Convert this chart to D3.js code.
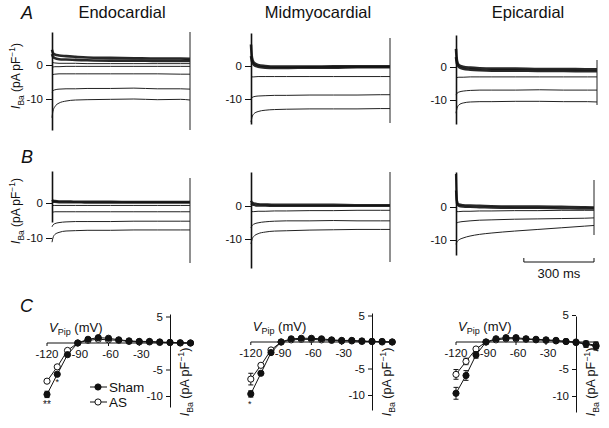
<!DOCTYPE html>
<html><head><meta charset="utf-8">
<script src="https://cdn.jsdelivr.net/npm/d3@7"></script>
<style>
html,body{margin:0;padding:0;background:#fff;}
svg{display:block;font-family:"Liberation Sans",Arial,Helvetica,sans-serif;}
</style></head>
<body>
<svg id="chart" width="609" height="428"></svg>
<script>
// ---------- DATA ----------
const titles = ["Endocardial", "Midmyocardial", "Epicardial"];
const rowLabels = ["A", "B", "C"];
const traceTicks = [0, -10];
const traceTimes = [0, 4, 12, 30, 60, 100, 150, 250, 350, 450, 550, 590]; // ms
// Row A current traces (pA/pF)
const endoA = [
  [-15.5, -13.6, -12.3, -11.2, -10.6, -10.3, -10.2, -10.1, -10.0, -10.2, -10.1, -10.3],
  [-8.0, -7.6, -7.3, -7.1, -7.0, -7.0, -6.9, -6.9, -6.8, -7.0, -7.0, -7.1],
  [-3.0, -2.8, -2.7, -2.6, -2.6, -2.6, -2.6, -2.6, -2.6, -2.6, -2.7, -2.7],
  [-0.7, -0.6, -0.5, -0.5, -0.4, -0.4, -0.4, -0.4, -0.4, -0.4, -0.4, -0.4],
  [0.8, 0.7, 0.6, 0.5, 0.5, 0.5, 0.4, 0.4, 0.4, 0.4, 0.4, 0.4]
];
const endoABand = [
  [4.5, 3.6, 3.1, 2.8, 2.6, 2.4, 2.2, 2.1, 2.0, 1.9, 1.9, 1.8],
  [3.2, 2.5, 2.0, 1.7, 1.6, 1.5, 1.4, 1.3, 1.3, 1.2, 1.2, 1.2]
];
const midA = [
  [-17.0, -15.6, -14.5, -13.8, -13.4, -13.2, -13.1, -13.0, -13.0, -13.0, -12.9, -12.9],
  [-10.0, -9.6, -9.3, -9.1, -9.0, -8.9, -8.9, -8.8, -8.8, -8.8, -8.7, -8.7],
  [-3.4, -3.3, -3.3, -3.2, -3.2, -3.2, -3.2, -3.2, -3.2, -3.2, -3.2, -3.2]
];
const midABand = [
  [6.5, 2.6, 1.0, 0.3, 0.0, -0.2, -0.2, -0.2, -0.1, -0.1, -0.1, -0.1],
  [3.0, 1.4, 0.4, -0.2, -0.5, -0.6, -0.6, -0.5, -0.5, -0.4, -0.4, -0.4]
];
const epiA = [
  [-14.0, -12.6, -11.5, -10.9, -10.6, -10.5, -10.5, -10.4, -10.4, -10.5, -10.5, -10.6],
  [-8.5, -8.0, -7.6, -7.3, -7.1, -7.0, -7.0, -7.0, -6.9, -7.0, -7.0, -7.0],
  [-3.3, -3.2, -3.1, -3.1, -3.0, -3.0, -3.0, -3.0, -3.0, -3.0, -3.0, -3.0]
];
const epiABand = [
  [5.5, 2.0, 0.6, 0.1, -0.2, -0.4, -0.5, -0.5, -0.6, -0.6, -0.7, -0.7],
  [3.0, 1.0, 0.0, -0.5, -0.8, -1.0, -1.1, -1.1, -1.2, -1.2, -1.3, -1.3]
];
// Row B current traces
const endoB = [
  [-11.2, -10.0, -9.0, -8.4, -8.0, -7.9, -7.8, -7.8, -7.7, -7.7, -7.7, -7.7],
  [-6.8, -6.3, -5.9, -5.6, -5.4, -5.3, -5.3, -5.3, -5.2, -5.2, -5.2, -5.2],
  [-2.7, -2.6, -2.5, -2.5, -2.5, -2.5, -2.5, -2.5, -2.5, -2.5, -2.5, -2.5],
  [-0.8, -0.7, -0.7, -0.7, -0.7, -0.7, -0.7, -0.7, -0.7, -0.7, -0.7, -0.7]
];
const endoBBand = [
  [0.9, 0.7, 0.6, 0.5, 0.5, 0.4, 0.4, 0.4, 0.3, 0.3, 0.3, 0.3],
  [0.5, 0.4, 0.3, 0.2, 0.2, 0.2, 0.1, 0.1, 0.1, 0.1, 0.1, 0.1]
];
const midB = [
  [-11.5, -10.2, -9.2, -8.4, -7.9, -7.6, -7.5, -7.3, -7.2, -7.1, -7.1, -7.1],
  [-6.6, -6.0, -5.5, -5.1, -4.8, -4.6, -4.5, -4.5, -4.4, -4.5, -4.5, -4.5],
  [-1.8, -1.7, -1.7, -1.6, -1.6, -1.5, -1.5, -1.4, -1.4, -1.3, -1.3, -1.3]
];
const midBBand = [
  [1.6, 1.1, 0.8, 0.6, 0.5, 0.4, 0.4, 0.4, 0.4, 0.3, 0.3, 0.3],
  [0.8, 0.5, 0.3, 0.1, 0.1, 0.0, 0.0, 0.0, 0.0, 0.0, 0.0, 0.0]
];
const epiB = [
  [-11.3, -10.6, -10.0, -9.4, -8.8, -8.3, -7.9, -7.3, -6.8, -6.3, -5.8, -5.6],
  [-5.0, -4.8, -4.6, -4.4, -4.2, -4.0, -3.9, -3.7, -3.6, -3.5, -3.4, -3.3],
  [-1.5, -1.4, -1.4, -1.3, -1.3, -1.2, -1.2, -1.1, -1.1, -1.0, -1.0, -1.0]
];
const epiBBand = [
  [10.0, 2.0, 0.8, 0.6, 0.5, 0.4, 0.3, 0.2, 0.2, 0.1, 0.0, -0.1],
  [5.0, 1.0, 0.3, 0.1, 0.0, -0.1, -0.2, -0.3, -0.3, -0.4, -0.5, -0.5]
];
const scaleBarMs = 300;
// Row C I-V data
const ivVoltages = [-120, -110, -100, -90, -80, -70, -60, -50, -40, -30, -20, -10, 0, 10, 20];
const ivXTicks = [-120, -90, -60, -30];
const ivYTicks = [5, -5, -10];
const endoSham = [-9.7, -5.9, -2.2, 0, 0.7, 1.0, 0.9, 0.6, 0.4, 0.3, 0.3, 0.2, 0.1, 0.05, 0];
const endoAS   = [-7.2, -4.5, -1.4, 0, 0.5, 0.7, 0.6, 0.5, 0.3, 0.2, 0.2, 0.1, 0.1, 0.0, 0];
const endoShamErr = [0.6, 0.5, 0.3, 0.1, 0.2, 0.2, 0.2, 0.2, 0.1, 0.1, 0.1, 0.1, 0.1, 0.1, 0.1];
const endoASErr   = [0.5, 0.4, 0.3, 0.1, 0.2, 0.2, 0.2, 0.1, 0.1, 0.1, 0.1, 0.1, 0.1, 0.1, 0.1];
const midSham = [-9.8, -5.9, -2.0, 0, 0.6, 0.7, 0.7, 0.6, 0.4, 0.3, 0.3, 0.2, 0.1, 0.1, 0];
const midAS   = [-7.0, -4.4, -1.5, 0, 0.4, 0.5, 0.5, 0.4, 0.3, 0.2, 0.2, 0.1, 0.1, 0.0, 0];
const midShamErr = [0.6, 0.5, 0.3, 0.1, 0.2, 0.2, 0.2, 0.1, 0.1, 0.1, 0.1, 0.1, 0.1, 0.1, 0.1];
const midASErr   = [1.1, 0.5, 0.3, 0.1, 0.2, 0.2, 0.1, 0.1, 0.1, 0.1, 0.1, 0.1, 0.1, 0.1, 0.1];
const epiSham = [-9.5, -6.2, -2.4, 0, 0.6, 0.8, 0.8, 0.6, 0.5, 0.4, 0.3, 0.1, -0.1, -0.4, -0.8];
const epiAS   = [-6.0, -3.6, -1.3, 0, 0.4, 0.6, 0.6, 0.5, 0.4, 0.3, 0.2, 0.1, 0.0, -0.3, -0.6];
const epiShamErr = [1.1, 0.9, 0.6, 0.2, 0.3, 0.3, 0.3, 0.3, 0.3, 0.3, 0.3, 0.4, 0.5, 0.6, 0.7];
const epiASErr   = [0.9, 0.6, 0.4, 0.2, 0.3, 0.3, 0.3, 0.3, 0.3, 0.3, 0.3, 0.4, 0.5, 0.5, 0.6];
const seriesNames = ["Sham", "AS"];

// ---------- DRAWING ----------
const svg = d3.select("#chart");
const ink = "#111";

function iBaLabel(g, x, y, size) {
  const t = g.append("text").attr("transform", `translate(${x},${y}) rotate(-90)`)
    .attr("text-anchor", "middle").attr("font-size", size).attr("fill", ink);
  t.append("tspan").attr("font-style", "italic").text("I");
  t.append("tspan").attr("font-size", size * 0.7).attr("dy", size * 0.3).text("Ba");
  t.append("tspan").attr("dy", -size * 0.3).text(" (pA pF");
  t.append("tspan").attr("font-size", size * 0.7).attr("dy", -size * 0.4).text("−1");
  t.append("tspan").attr("dy", size * 0.4).text(")");
}

// panel letters
const letterPos = [[21, 19], [21, 163], [20, 312]];
rowLabels.forEach((l, i) => {
  svg.append("text").attr("x", letterPos[i][0]).attr("y", letterPos[i][1])
    .attr("font-size", 18).attr("font-style", "italic").attr("fill", ink).text(l);
});
// titles
const titleX = [122, 318, 528];
titles.forEach((t, i) => {
  svg.append("text").attr("x", titleX[i]).attr("y", 18).attr("text-anchor", "middle")
    .attr("font-size", 16.5).attr("fill", ink).text(t);
});

// trace panels
const traceLayout = [
  {x0: 52, x1: 190, zero: 65, ppu: 3.4, axTop: 32, axBot: 130, endTop: 32, endBot: 130, data: endoA, band: endoABand},
  {x0: 251, x1: 390, zero: 66, ppu: 3.3, axTop: 33, axBot: 124, endTop: 38, endBot: 123, data: midA, band: midABand},
  {x0: 456, x1: 597, zero: 67, ppu: 3.3, axTop: 35, axBot: 124, endTop: 60, endBot: 105, data: epiA, band: epiABand},
  {x0: 52, x1: 190, zero: 203, ppu: 3.5, axTop: 171, axBot: 222, endTop: 178, endBot: 263, data: endoB, band: endoBBand},
  {x0: 251, x1: 390, zero: 206, ppu: 3.3, axTop: 172, axBot: 268, endTop: 172, endBot: 262, data: midB, band: midBBand},
  {x0: 456, x1: 594, zero: 207, ppu: 3.3, axTop: 172, axBot: 255, endTop: 180, endBot: 235, data: epiB, band: epiBBand}
];

traceLayout.forEach((p, idx) => {
  const g = svg.append("g");
  const x = d3.scaleLinear().domain([0, 590]).range([p.x0, p.x1]);
  const y = d3.scaleLinear().domain([0, -10]).range([p.zero, p.zero + 10 * p.ppu]);
  const yAx = d3.scaleLinear().domain([y.invert(p.axTop), y.invert(p.axBot)]).range([p.axTop, p.axBot]);
  const line = d3.line().x((d, i) => x(traceTimes[i])).y(d => y(d)).curve(d3.curveMonotoneX);
  // band (noisy superimposed traces near zero)
  p.band.forEach((tr, k) => {
    g.append("path").attr("d", line(tr)).attr("fill", "none").attr("stroke", ink)
      .attr("stroke-width", idx < 3 ? 2.6 : 2.2).attr("opacity", 0.9);
  });
  p.data.forEach(tr => {
    g.append("path").attr("d", line(tr)).attr("fill", "none").attr("stroke", "#222")
      .attr("stroke-width", 1);
  });
  // end-of-pulse transient line
  g.append("line").attr("x1", p.x1).attr("x2", p.x1).attr("y1", p.endTop).attr("y2", p.endBot)
    .attr("stroke", "#222").attr("stroke-width", 1);
  // y axis
  const axis = d3.axisLeft(yAx).tickValues(traceTicks).tickSize(6).tickSizeOuter(0)
    .tickFormat(d => d === 0 ? "0" : "-" + Math.abs(d));
  const ag = g.append("g").attr("transform", `translate(${p.x0},0)`).call(axis);
  ag.select(".domain").attr("stroke", ink).attr("stroke-width", 1.6);
  ag.selectAll(".tick line").attr("stroke", ink);
  ag.selectAll(".tick text").attr("font-size", 11.5).attr("fill", ink).attr("font-family", "Liberation Sans, Arial, sans-serif");
});
// y labels rows A, B
iBaLabel(svg, 20, 76, 12);
iBaLabel(svg, 20, 211, 12);

// scale bar (uses panel B3 time scale)
{
  const p = traceLayout[5];
  const x = d3.scaleLinear().domain([0, 590]).range([p.x0, p.x1]);
  const xs = p.x1 - (x(scaleBarMs) - x(0));
  const xe = p.x1;
  svg.append("path").attr("d", `M${xs},${258}V${262}H${xe}V${258}`).attr("fill", "none")
    .attr("stroke", ink).attr("stroke-width", 1);
  svg.append("text").attr("x", (xs + xe) / 2).attr("y", 278).attr("text-anchor", "middle")
    .attr("font-size", 13).attr("fill", ink).text(scaleBarMs + " ms");
}

// I-V panels
const ivLayout = [
  {ax: 170, zero: 343, pxmV: 1.025, ppu: 5.3, yTop: 314, yBot: 407, sham: endoSham, as: endoAS, shamErr: endoShamErr, asErr: endoASErr},
  {ax: 372, zero: 342, pxmV: 1.01, ppu: 5.3, yTop: 313, yBot: 410, sham: midSham, as: midAS, shamErr: midShamErr, asErr: midASErr},
  {ax: 576, zero: 342, pxmV: 1.0, ppu: 5.4, yTop: 316, yBot: 412, sham: epiSham, as: epiAS, shamErr: epiShamErr, asErr: epiASErr}
];
ivLayout.forEach((p, idx) => {
  const g = svg.append("g");
  const x = d3.scaleLinear().domain([0, -120]).range([p.ax, p.ax - 120 * p.pxmV]);
  const y = d3.scaleLinear().domain([0, -10]).range([p.zero, p.zero + 10 * p.ppu]);
  // x axis line
  g.append("line").attr("x1", x(-120)).attr("x2", x(22)).attr("y1", y(0)).attr("y2", y(0))
    .attr("stroke", ink).attr("stroke-width", 1);
  ivXTicks.forEach(v => {
    g.append("line").attr("x1", x(v)).attr("x2", x(v)).attr("y1", y(0)).attr("y2", y(0) + 3)
      .attr("stroke", ink).attr("stroke-width", 1);
    g.append("text").attr("x", x(v) + (v === -120 ? 0 : 2)).attr("y", y(0) + 15).attr("text-anchor", "middle")
      .attr("font-size", 11.5).attr("fill", ink).text(String(v).replace("-", "-"));
  });
  // y axis
  const yAx = d3.scaleLinear().domain([y.invert(p.yTop), y.invert(p.yBot)]).range([p.yTop, p.yBot]);
  const axis = d3.axisLeft(yAx).tickValues(ivYTicks).tickSize(4).tickSizeOuter(0)
    .tickFormat(d => d > 0 ? String(d) : "-" + Math.abs(d));
  const ag = g.append("g").attr("transform", `translate(${p.ax},0)`).call(axis);
  ag.select(".domain").attr("stroke", ink).attr("stroke-width", 1);
  ag.selectAll(".tick line").attr("stroke", ink);
  ag.selectAll(".tick text").attr("font-size", 11.5).attr("fill", ink).attr("font-family", "Liberation Sans, Arial, sans-serif");
  // axis titles
  const vt = g.append("text").attr("x", x(-120) + 2).attr("y", y(0) - 11).attr("font-size", 13).attr("fill", ink);
  vt.append("tspan").attr("font-style", "italic").text("V");
  vt.append("tspan").attr("font-size", 9).attr("dy", 3).text("Pip");
  vt.append("tspan").attr("dy", -3).text(" (mV)");
  iBaLabel(g, p.ax + 19, 382, 12.5);

  const lineGen = d3.line().x((d, i) => x(ivVoltages[i])).y(d => y(d));
  const drawSeries = (vals, errs, filled) => {
    g.append("path").attr("d", lineGen(vals)).attr("fill", "none").attr("stroke", ink).attr("stroke-width", 1);
    vals.forEach((v, i) => {
      const cx = x(ivVoltages[i]);
      const e = errs[i];
      if (e * p.ppu > 3) {
        g.append("path").attr("d", `M${cx},${y(v - e)}V${y(v + e)}M${cx - 2.5},${y(v - e)}H${cx + 2.5}M${cx - 2.5},${y(v + e)}H${cx + 2.5}`)
          .attr("stroke", ink).attr("stroke-width", 1).attr("fill", "none");
      }
    });
    g.selectAll(null).data(vals).enter().append("circle")
      .attr("cx", (d, i) => x(ivVoltages[i])).attr("cy", d => y(d)).attr("r", 3.1)
      .attr("fill", filled ? ink : "#fff").attr("stroke", ink).attr("stroke-width", 1);
  };
  drawSeries(p.as, p.asErr, false);
  drawSeries(p.sham, p.shamErr, true);

  // significance markers
  if (idx === 0) {
    g.append("text").attr("x", x(-120)).attr("y", y(p.sham[0]) + 14).attr("text-anchor", "middle")
      .attr("font-size", 10).attr("fill", ink).text("**");
    g.append("text").attr("x", x(-110)).attr("y", y(p.sham[1]) + 11).attr("text-anchor", "middle")
      .attr("font-size", 9).attr("fill", ink).text("*");
  } else if (idx === 1) {
    g.append("text").attr("x", x(-120) - 1).attr("y", y(p.sham[0]) + 13).attr("text-anchor", "middle")
      .attr("font-size", 9).attr("fill", ink).text("*");
  }
});

// legend (panel C1)
const legendY = [387, 402];
seriesNames.forEach((n, i) => {
  const gy = legendY[i];
  svg.append("line").attr("x1", 90).attr("x2", 107).attr("y1", gy).attr("y2", gy).attr("stroke", ink).attr("stroke-width", 1);
  svg.append("circle").attr("cx", 98).attr("cy", gy).attr("r", 3.1)
    .attr("fill", i === 0 ? ink : "#fff").attr("stroke", ink).attr("stroke-width", 1);
  svg.append("text").attr("x", 109).attr("y", gy + 5).attr("font-size", 13.5).attr("fill", ink).text(n);
});
</script>
</body></html>
